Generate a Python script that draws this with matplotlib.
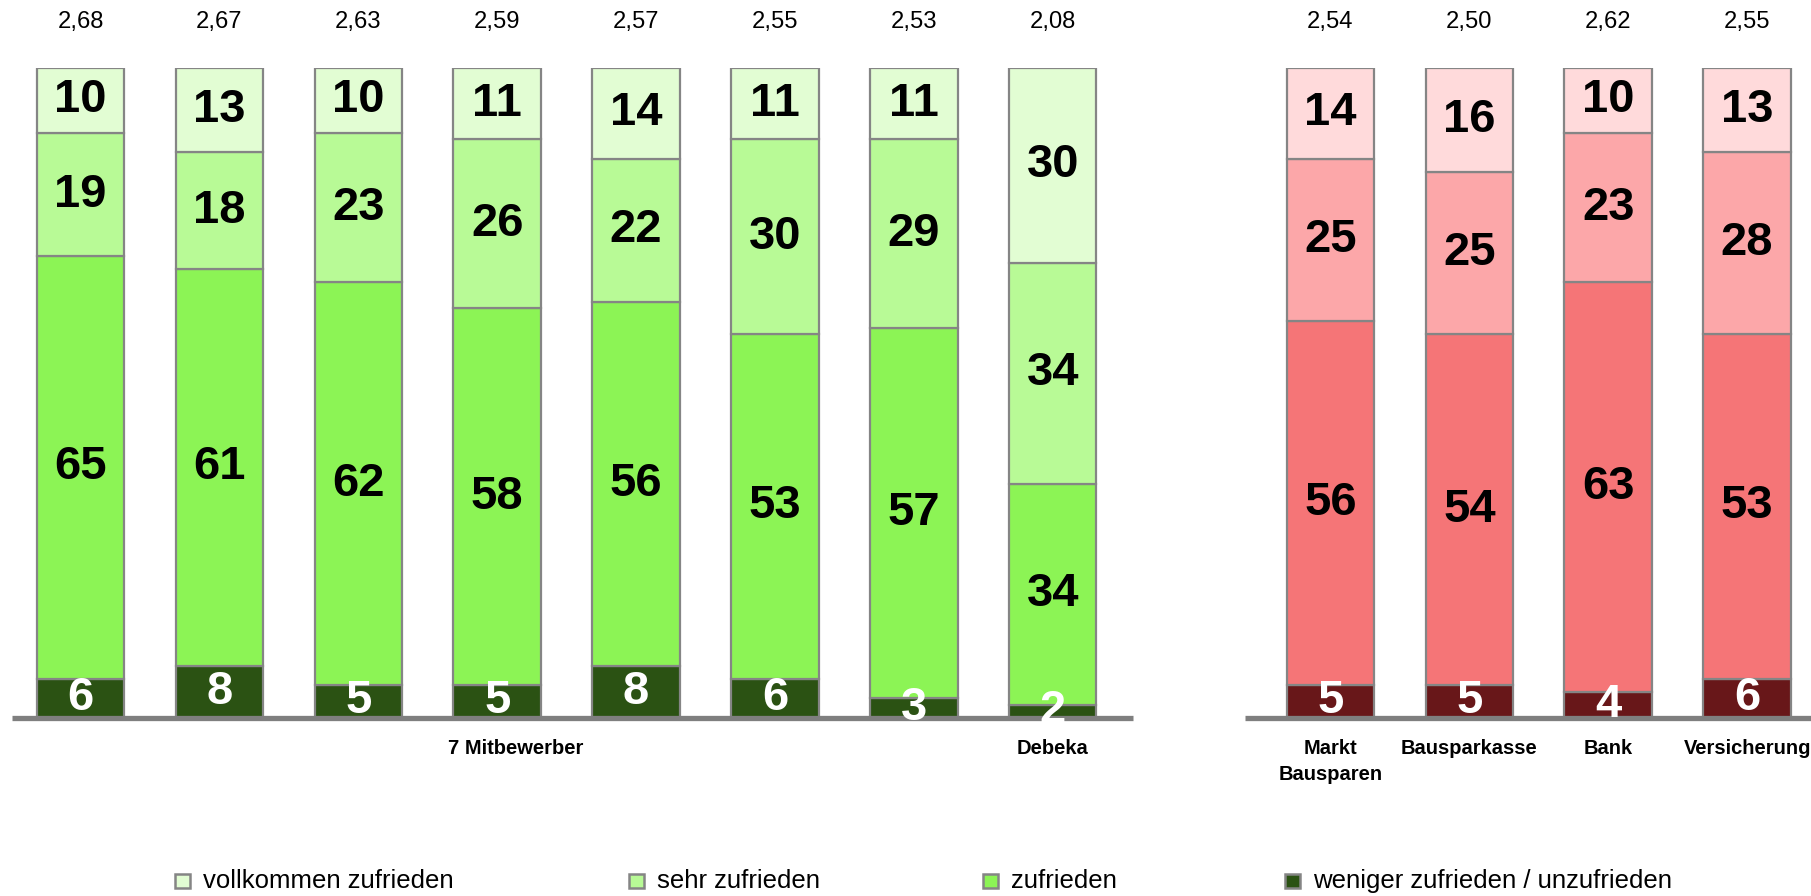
import numpy as np
import matplotlib as mpl
mpl.use("Agg")
import matplotlib.pyplot as plt
from matplotlib import font_manager
from matplotlib.patches import Rectangle

# data
left_groups = ["", "", "", "", "", "", "", "Debeka"]
left_means = ["2,68", "2,67", "2,63", "2,59", "2,57", "2,55", "2,53", "2,08"]
left_vollkommen = [10, 13, 10, 11, 14, 11, 11, 30]
left_sehr = [19, 18, 23, 26, 22, 30, 29, 34]
left_zufrieden = [65, 61, 62, 58, 56, 53, 57, 34]
left_weniger = [6, 8, 5, 5, 8, 6, 3, 2]

right_groups = ["Markt\nBausparen", "Bausparkasse", "Bank", "Versicherung"]
right_means = ["2,54", "2,50", "2,62", "2,55"]
right_vollkommen = [14, 16, 10, 13]
right_sehr = [25, 25, 23, 28]
right_zufrieden = [56, 54, 63, 53]
right_weniger = [5, 5, 4, 6]

legend_labels = ["vollkommen zufrieden", "sehr zufrieden", "zufrieden",
                 "weniger zufrieden / unzufrieden"]

green = ["#2B5213", "#8CF455", "#B8FA96", "#E2FDD3"]
red = ["#681719", "#F57577", "#FCA7A9", "#FFDADB"]

names = {f.name for f in font_manager.fontManager.ttflist}
narrow = "Liberation Sans Narrow" if "Liberation Sans Narrow" in names else "Liberation Sans"
regular = "Liberation Sans"
# without the narrow face, shrink a bit so widths stay close
k = 1.0 if narrow.endswith("Narrow") else 0.9

fig = plt.figure(figsize=(18.11, 8.96), dpi=100)
ax = fig.add_axes([0, (896 - 717.5) / 896, 1, 649.5 / 896])
ax.set_xlim(-0.58, 12.46)
ax.set_ylim(0, 100)
ax.axis("off")

x_left = np.arange(len(left_means))
x_right = np.arange(len(right_means)) + len(left_means) + 1
width = 0.63


def stack(xs, segs, colors, means):
    bottom = np.zeros(len(xs))
    for i, (vals, col) in enumerate(zip(segs, colors)):
        vals = np.asarray(vals, dtype=float)
        ax.bar(xs, vals, width, bottom=bottom, color=col,
               edgecolor="#858585", linewidth=1.6, zorder=2)
        for x, b, v in zip(xs, bottom, vals):
            ax.text(x, b + v / 2, str(int(v)), ha="center", va="center",
                    fontsize=36 * k + 1.5, fontweight="bold", family=narrow,
                    color="white" if i == 0 else "black", zorder=5)
        bottom += vals
    for x, m in zip(xs, means):
        ax.text(x, 107.1, m, ha="center", va="center", fontsize=19 * k,
                family=narrow, color="black")


stack(x_left, [left_weniger, left_zufrieden, left_sehr, left_vollkommen],
      green, left_means)
stack(x_right, [right_weniger, right_zufrieden, right_sehr, right_vollkommen],
      red, right_means)

# broken base line
ax.plot([-0.493, 7.577], [0, 0], color="#7F7F7F", lw=3.8, zorder=3,
        solid_capstyle="butt", clip_on=False)
ax.plot([8.384, 12.46], [0, 0], color="#7F7F7F", lw=3.8, zorder=3,
        solid_capstyle="butt", clip_on=False)

# category labels
cat_fs = 16 * k + 0.1
ax.text(3.135, -3.3, "7 Mitbewerber", ha="center", va="top", fontsize=cat_fs,
        fontweight="bold", family=narrow)
for x, g in zip(x_left, left_groups):
    if g:
        ax.text(x, -3.3, g, ha="center", va="top", fontsize=cat_fs,
                fontweight="bold", family=narrow, linespacing=1.45)
for x, g in zip(x_right, right_groups):
    ax.text(x, -3.3, g, ha="center", va="top", fontsize=cat_fs,
            fontweight="bold", family=narrow, linespacing=1.45)

# legend drawn by hand to keep the original spacing
leg_x = [175, 629, 983, 1285]
for lx, lab, col in zip(leg_x, legend_labels, green[::-1]):
    fig.add_artist(Rectangle((lx / 1811, (896 - 888) / 896), 15 / 1811, 14 / 896,
                             transform=fig.transFigure, facecolor=col,
                             edgecolor="#858585", linewidth=1.8))
    fig.text((lx + 28) / 1811, (896 - 881) / 896, lab, ha="left", va="center",
             fontsize=18.5, family=regular)

fig.savefig("out.png", dpi=100)
